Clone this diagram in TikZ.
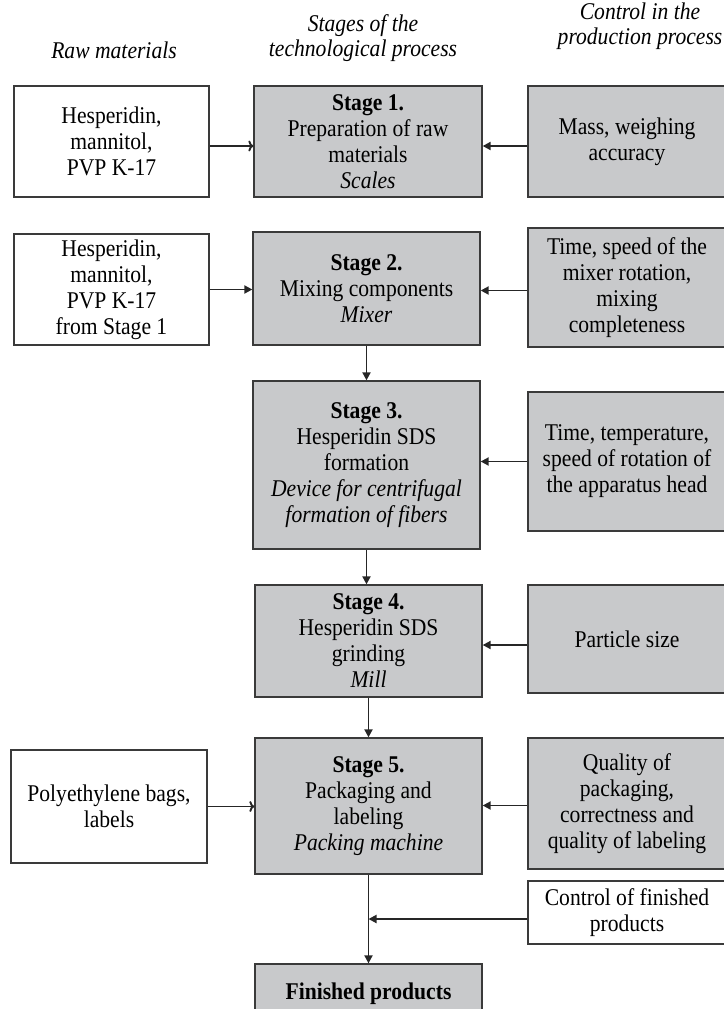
\documentclass[tikz,border=0pt]{standalone}
\usepackage{fontspec}
\setmainfont{Liberation Serif}[FakeStretch=0.9]
\usetikzlibrary{arrows.meta}
\definecolor{boxgray}{HTML}{C8C9CB}
\definecolor{edgec}{HTML}{3A3A3A}
\begin{document}
\begin{tikzpicture}[x=1pt,y=-1pt,
  box/.style={draw=edgec, line width=1.3pt, align=center, inner sep=1pt, font=\fontsize{24}{26}\selectfont},
  grayb/.style={box, fill=boxgray},
  whiteb/.style={box, fill=white},
  hdr/.style={align=center, font=\fontsize{24}{25}\selectfont\itshape},
  arr/.style={line width=1.9pt, draw=black!85, -{Triangle[length=8pt,width=8pt]}},
  oarr/.style={line width=1.9pt, draw=black!85, -{To[length=5pt,width=11pt]}}
]
\useasboundingbox (0,0) rectangle (723,1009);
% headers
\node[hdr] (h1) at (114,50) {Raw materials};
\node[hdr] (h2) at (363,38) {Stages of the\\technological process};
\node[hdr] (h3) at (640,26) {Control in the\\production process};
% row 1
\node[whiteb, minimum width=195pt, minimum height=111pt] (r1) at (111.5,141.5) {Hesperidin,\\mannitol,\\PVP K-17};
\node[grayb, minimum width=228pt, minimum height=111pt] (s1) at (368,141.5) {\textbf{Stage 1.}\\Preparation of raw\\materials\\\textit{Scales}};
\node[grayb, minimum width=198pt, minimum height=111pt] (c1) at (627,141.5) {Mass, weighing\\accuracy};
% row 2
\node[whiteb, minimum width=195pt, minimum height=111pt] (r2) at (111.5,289.5) {Hesperidin,\\mannitol,\\PVP K-17\\from Stage 1};
\node[grayb, minimum width=227pt, minimum height=113pt] (s2) at (366.5,288.5) {\textbf{Stage 2.}\\Mixing components\\\textit{Mixer}};
\node[grayb, minimum width=198pt, minimum height=119pt] (c2) at (627,287.5) {Time, speed of the\\mixer rotation,\\mixing\\completeness};
% row 3
\node[grayb, minimum width=227pt, minimum height=168pt] (s3) at (366.5,465) {\textbf{Stage 3.}\\Hesperidin SDS\\formation\\\textit{Device for centrifugal}\\\textit{formation of fibers}};
\node[grayb, minimum width=198pt, minimum height=139pt] (c3) at (627,461.5) {Time, temperature,\\speed of rotation of\\the apparatus head};
% row 4
\node[grayb, minimum width=227pt, minimum height=112pt] (s4) at (368.5,641) {\textbf{Stage 4.}\\Hesperidin SDS\\grinding\\\textit{Mill}};
\node[grayb, minimum width=198pt, minimum height=108pt] (c4) at (627,639) {Particle size};
% row 5
\node[whiteb, minimum width=196pt, minimum height=113pt] (r5) at (109,806.5) {Polyethylene bags,\\labels};
\node[grayb, minimum width=227pt, minimum height=136pt] (s5) at (368.5,806) {\textbf{Stage 5.}\\Packaging and\\labeling\\\textit{Packing machine}};
\node[grayb, minimum width=198pt, minimum height=131pt] (c5) at (627,803.5) {Quality of\\packaging,\\correctness and\\quality of labeling};
\node[whiteb, minimum width=198pt, minimum height=63pt] (cfp) at (627,912.5) {Control of finished\\products};
\node[grayb, minimum width=227pt, minimum height=60pt] (fp) at (368.5,994) {\textbf{Finished products}};
% connectors
\draw[oarr] ([yshift=-4.5pt]r1.east) -- ([yshift=-4.5pt]r1.east -| s1.west);
\draw[arr] ([yshift=-4.5pt]c1.west) -- ([yshift=-4.5pt]c1.west -| s1.east);
\draw[arr] (r2.east) -- (r2.east -| s2.west);
\draw[arr] ([yshift=-3pt]c2.west) -- ([yshift=-3pt]c2.west -| s2.east);
\draw[arr] (s2.south) -- (s2.south |- s3.north);
\draw[arr] (c3.west) -- (c3.west -| s3.east);
\draw[arr] (s3.south) -- (s3.south |- s4.north);
\draw[arr] ([yshift=-6pt]c4.west) -- ([yshift=-6pt]c4.west -| s4.east);
\draw[arr] (s4.south) -- (s4.south |- s5.north);
\draw[oarr] (r5.east) -- (r5.east -| s5.west);
\draw[arr] ([yshift=-2pt]c5.west) -- ([yshift=-2pt]c5.west -| s5.east);
\coordinate (j) at ([yshift=-6.5pt]s5.south |- cfp.west);
\draw[arr] ([yshift=-6.5pt]cfp.west) -- (j);
\draw[arr] (s5.south) -- (fp.north);
\end{tikzpicture}
\end{document}
